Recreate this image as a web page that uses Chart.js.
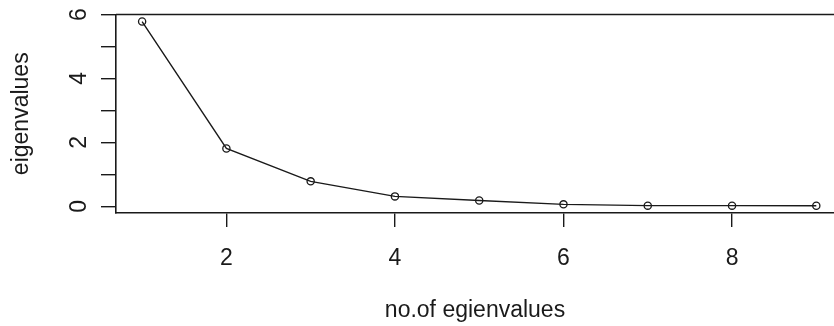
<!DOCTYPE html>
<html>
<head>
<meta charset="utf-8">
<script src="https://cdn.jsdelivr.net/npm/chart.js@4"></script>
<style>
  html, body { margin: 0; padding: 0; background: #fff; }
  #wrap { width: 834px; height: 326px; position: relative; }
</style>
</head>
<body>
<div id="wrap"><canvas id="chart"></canvas></div>
<script>
// scree plot values
const componentNo = [1, 2, 3, 4, 5, 6, 7, 8, 9];
const eigenvalues = [5.78, 1.81, 0.78, 0.31, 0.18, 0.06, 0.02, 0.02, 0.015];
const xTickValues = [2, 4, 6, 8];
const yTickValues = [0, 1, 2, 3, 4, 5, 6];
const yTickLabels = ['0', '', '2', '', '4', '', '6'];

const ink = '#1a1a1a';
const font = { family: 'Liberation Sans, Arial, sans-serif', size: 23 };

// R-style box: only the top edge is visible in the crop
const topEdge = {
  id: 'topEdge',
  afterDraw(chart) {
    const { ctx, chartArea } = chart;
    ctx.save();
    ctx.strokeStyle = ink;
    ctx.lineWidth = 1.6;
    ctx.beginPath();
    ctx.moveTo(chartArea.left, chartArea.top);
    ctx.lineTo(chartArea.right, chartArea.top);
    ctx.stroke();
    ctx.restore();
  },
};

// drop the extra room Chart.js reserves for tick labels
function noPadding(scale) {
  scale.paddingTop = 0;
  scale.paddingBottom = 0;
  scale.paddingLeft = 0;
  scale.paddingRight = 0;
}

function createChart() {
  const ctx = document.getElementById('chart').getContext('2d');
  const points = componentNo.map((n, i) => ({ x: n, y: eigenvalues[i] }));

  const config = {
    type: 'scatter',
    data: {
      datasets: [
        {
          data: points,
          showLine: true,
          borderColor: ink,
          borderWidth: 1.4,
          pointRadius: 3.6,
          pointBorderWidth: 1.3,
          pointBorderColor: ink,
          pointBackgroundColor: 'rgba(0,0,0,0)',
          tension: 0,
        },
      ],
    },
    options: {
      responsive: true,
      maintainAspectRatio: false,
      animation: false,
      layout: {
        autoPadding: false,
        padding: { top: 14.5, left: 0, right: 0, bottom: 0 },
      },
      plugins: {
        legend: { display: false },
        tooltip: { enabled: false },
      },
      scales: {
        x: {
          type: 'linear',
          min: 0.69,
          max: 9.21,
          afterBuildTicks: (scale) => {
            scale.ticks = xTickValues.map((v) => ({ value: v }));
          },
          afterFit: (scale) => {
            scale.height = 113;
            noPadding(scale);
          },
          grid: {
            drawOnChartArea: false,
            drawTicks: true,
            tickLength: 14,
            tickColor: ink,
            lineWidth: 1.4,
          },
          border: { display: true, color: ink, width: 1.6 },
          ticks: {
            color: ink,
            font: font,
            padding: 18,
            maxRotation: 0,
            autoSkip: false,
          },
          title: {
            display: true,
            text: 'no.of egienvalues',
            color: ink,
            font: font,
            padding: { top: 0, bottom: 2 },
          },
        },
        y: {
          type: 'linear',
          min: -0.21,
          max: 6,
          afterBuildTicks: (scale) => {
            scale.ticks = yTickValues.map((v) => ({ value: v }));
          },
          afterFit: (scale) => {
            scale.width = 116;
            noPadding(scale);
          },
          grid: {
            drawOnChartArea: false,
            drawTicks: true,
            tickLength: 15,
            tickColor: ink,
            lineWidth: 1.4,
          },
          border: { display: true, color: ink, width: 1.6 },
          ticks: {
            color: ink,
            font: font,
            padding: 15,
            minRotation: 90,
            maxRotation: 90,
            crossAlign: 'center',
            autoSkip: false,
            callback: (value, index) => yTickLabels[index],
          },
          title: {
            display: true,
            text: 'eigenvalues',
            color: ink,
            font: font,
            padding: { top: 8, bottom: 0 },
          },
        },
      },
    },
    plugins: [topEdge],
  };

  return new Chart(ctx, config);
}

createChart();
</script>
</body>
</html>
